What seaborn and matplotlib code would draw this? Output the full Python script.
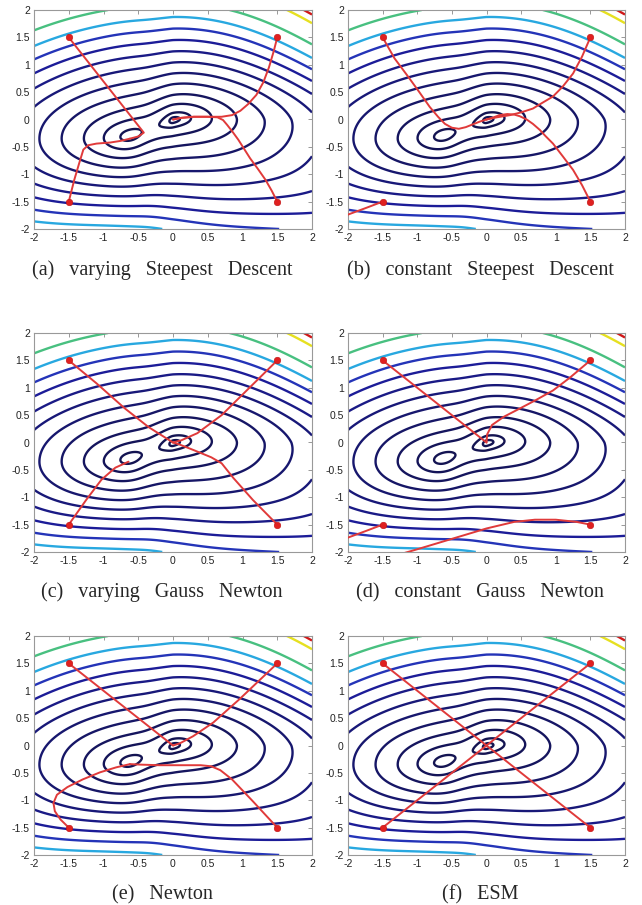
"""
Six panels: descent paths of several minimisation methods drawn over the
contour lines of a two-basin cost surface (four starting points each).
"""

import numpy as np
import matplotlib
matplotlib.use("Agg")
import matplotlib.pyplot as plt
import seaborn as sns

# ---------------------------------------------------------------------------
# Data
# ---------------------------------------------------------------------------

TICKS = [-2, -1.5, -1, -0.5, 0, 0.5, 1, 1.5, 2]
TICK_LABELS = ["-2", "-1.5", "-1", "-0.5", "0", "0.5", "1", "1.5", "2"]

# contour levels of the cost surface (innermost first)
LEVELS = [0.05, 0.13, 0.28, 0.46, 0.66, 0.86, 1.06, 1.26, 1.46, 1.66,
          1.86, 2.1, 2.47, 2.62]

# cost surface: global minimum at the origin, local minimum at LOCAL_MIN_X
LOCAL_MIN_X = -0.62
LOCAL_DEPTH = 0.08

START_X = [-1.5, 1.5, 1.5, -1.5]
START_Y = [1.5, 1.5, -1.5, -1.5]

PATHS_A = [
    [(-1.5, 1.5), (-0.42, -0.24), (-0.5, -0.31), (-0.62, -0.35)],
    [(1.5, 1.5), (1.45, 1.25), (1.38, 0.95), (1.3, 0.68), (1.2, 0.45),
     (1.08, 0.28), (0.97, 0.16), (0.85, 0.08), (0.7, 0.05), (0.5, 0.05),
     (0.3, 0.05), (0.12, 0.03), (0.0, 0.0)],
    [(1.5, -1.5), (1.42, -1.3), (1.33, -1.1), (1.22, -0.9), (1.11, -0.71),
     (1.02, -0.53), (0.94, -0.37), (0.86, -0.23), (0.78, -0.1), (0.72, -0.01),
     (0.64, 0.04), (0.5, 0.05), (0.3, 0.05), (0.12, 0.03), (0.0, 0.0)],
    [(-1.5, -1.5), (-1.42, -1.1), (-1.35, -0.8), (-1.29, -0.55), (-1.22, -0.47),
     (-1.1, -0.44), (-0.9, -0.42), (-0.75, -0.39), (-0.62, -0.35)],
]

PATHS_B = [
    [(-1.5, 1.5), (-1.33, 1.12), (-1.13, 0.78), (-0.97, 0.5), (-0.82, 0.23),
     (-0.7, 0.05), (-0.6, -0.08), (-0.5, -0.15), (-0.4, -0.17), (-0.3, -0.14),
     (-0.2, -0.09), (-0.1, -0.04), (0.0, 0.0)],
    [(1.5, 1.5), (1.38, 1.15), (1.25, 0.84), (1.1, 0.6), (0.96, 0.42),
     (0.8, 0.3), (0.67, 0.2), (0.5, 0.13), (0.34, 0.08), (0.15, 0.04), (0.0, 0.0)],
    [(1.5, -1.5), (1.38, -1.2), (1.25, -0.92), (1.1, -0.67), (0.96, -0.44),
     (0.85, -0.3), (0.77, -0.19), (0.67, -0.08), (0.58, 0.0), (0.48, 0.06),
     (0.4, 0.09), (0.3, 0.1), (0.19, 0.08), (0.08, 0.03), (0.0, 0.0)],
    [(-1.5, -1.5), (-1.75, -1.62), (-2.05, -1.76)],
]

PATHS_C = [
    [(-1.5, 1.5), (-1.1, 1.08), (-0.7, 0.63), (-0.35, 0.28), (0.0, 0.0)],
    [(1.5, 1.5), (1.1, 1.0), (0.7, 0.5), (0.35, 0.17), (0.12, 0.04), (0.0, 0.0)],
    [(1.5, -1.5), (1.15, -1.05), (0.87, -0.65), (0.7, -0.38), (0.55, -0.27),
     (0.3, -0.14), (0.1, -0.04), (0.0, 0.0)],
    [(-1.5, -1.5), (-1.25, -1.05), (-1.03, -0.68), (-0.83, -0.46), (-0.64, -0.35)],
]

PATHS_D = [
    [(-1.5, 1.5), (0.0, 0.0)],
    [(1.5, 1.5), (1.2, 1.18), (0.96, 0.95), (0.72, 0.78), (0.48, 0.62),
     (0.25, 0.47), (0.08, 0.32), (0.01, 0.15), (0.0, 0.0)],
    [(1.5, -1.5), (1.3, -1.45), (1.0, -1.41), (0.7, -1.41), (0.4, -1.45),
     (0.0, -1.57), (-0.5, -1.76), (-1.0, -1.95), (-1.3, -2.06)],
    [(-1.5, -1.5), (-1.75, -1.62), (-2.05, -1.76)],
]

PATHS_E = [
    [(-1.5, 1.5), (0.0, 0.0)],
    [(1.5, 1.5), (0.96, 0.85), (0.58, 0.42), (0.29, 0.17), (0.1, 0.04), (0.0, 0.0)],
    [(1.5, -1.5), (1.15, -1.02), (0.85, -0.62), (0.68, -0.45), (0.55, -0.38),
     (0.4, -0.36), (0.1, -0.36), (-0.2, -0.36), (-0.45, -0.35), (-0.62, -0.34)],
    [(-1.5, -1.5), (-1.62, -1.35), (-1.7, -1.2), (-1.72, -1.05), (-1.67, -0.9),
     (-1.52, -0.76), (-1.3, -0.62), (-1.05, -0.49), (-0.82, -0.4), (-0.62, -0.34)],
]

PATHS_F = [
    [(-1.5, 1.5), (0.0, 0.0)],
    [(1.5, 1.5), (0.0, 0.0)],
    [(1.5, -1.5), (0.0, 0.0)],
    [(-1.5, -1.5), (0.0, 0.0)],
]

CAPTIONS = [
    "(a) varying Steepest Descent", "(b) constant Steepest Descent",
    "(c) varying Gauss Newton", "(d) constant Gauss Newton",
    "(e) Newton", "(f) ESM",
]

# ---------------------------------------------------------------------------
# Style
# ---------------------------------------------------------------------------

LINE_COLORS = ["#141452", "#141452", "#141458", "#15155e", "#161666",
               "#17176e", "#181878", "#1a1a86", "#1c1c98", "#2434b8",
               "#28a8e0", "#48c080", "#e6e020", "#d01818"]
PATH_COLOR = "#e03a3a"

sns.set_style("white")
plt.rcParams["font.family"] = ["Liberation Sans", "DejaVu Sans"]
plt.rcParams["axes.unicode_minus"] = False


def cost_surface(x, y):
    """Smooth distance-like cost with a valley joining the two minima."""
    # along-valley term: 0 at the origin, LOCAL_DEPTH at the local minimum
    excess = 0.05 * np.log1p(np.exp((-0.85 - x) / 0.05))
    plateau = 0.19 * (1 - np.exp(-np.abs(x) / 0.17))
    well = (0.185 - LOCAL_DEPTH) * np.exp(-((x - LOCAL_MIN_X) / 0.19) ** 2)
    u = np.where(x > 0, x / 2.0, plateau - well + excess / 1.6)

    # valley centre: tilted near the minima, smooth far away
    c_near = (-0.15 + 0.2 * np.tanh((x + 0.3) / 0.35)
              - 0.06 * np.maximum(x, 0) ** 2)
    c_far = -0.12 + 0.1 * x - np.where(x < 0, 0.02, 0.145) * x ** 2
    wgt = np.exp(-((y + 0.15) / 1.0) ** 2)
    centre = wgt * c_near + (1 - wgt) * c_far

    scale_up = 1.07
    scale_dn = 1.03 + 0.13 * np.tanh(x / 0.8)
    dv = y - centre
    v = np.where(dv > 0, dv / scale_up, dv / scale_dn)

    corner = 0.04 * np.maximum(x, 0) * np.maximum(y, 0)
    return np.sqrt(u ** 2 + v ** 2) + corner


GRID = np.linspace(-2, 2, 601)
XX, YY = np.meshgrid(GRID, GRID)
ZZ = cost_surface(XX, YY)


def draw_panel(ax, paths):
    ax.contour(XX, YY, ZZ, levels=LEVELS, colors=LINE_COLORS,
               linewidths=1.7, zorder=1)
    for path in paths:
        px = [p[0] for p in path]
        py = [p[1] for p in path]
        sns.lineplot(x=px, y=py, sort=False, estimator=None, ax=ax,
                     color=PATH_COLOR, linewidth=1.4, zorder=3)
    sns.scatterplot(x=START_X, y=START_Y, ax=ax, color="#e02020", s=22,
                    edgecolor="#c01010", linewidth=0.4, zorder=4)

    ax.set_xlim(-2, 2)
    ax.set_ylim(-2, 2)
    ax.set_xticks(TICKS)
    ax.set_yticks(TICKS)
    ax.set_xticklabels(TICK_LABELS)
    ax.set_yticklabels(TICK_LABELS)
    ax.tick_params(direction="in", length=3, width=0.6, top=True, right=True,
                   labelsize=7.5, labelcolor="#222222", color="#888888", pad=3)
    for spine in ax.spines.values():
        spine.set_color("#999999")
        spine.set_linewidth(0.8)


# ---------------------------------------------------------------------------
# Figure
# ---------------------------------------------------------------------------

W, H = 642, 905
fig = plt.figure(figsize=(W / 100, H / 100), dpi=100)

col_left = [34, 348]
col_right = [312, 625]
row_top = [10, 333, 636]
row_bottom = [229, 552, 855]
caption_base = [275, 597, 899]
caption_x = [162, 480]

all_paths = [PATHS_A, PATHS_B, PATHS_C, PATHS_D, PATHS_E, PATHS_F]

for i, paths in enumerate(all_paths):
    r, c = divmod(i, 2)
    left = col_left[c] / W
    width = (col_right[c] - col_left[c]) / W
    bottom = 1 - row_bottom[r] / H
    height = (row_bottom[r] - row_top[r]) / H
    ax = fig.add_axes([left, bottom, width, height])
    draw_panel(ax, paths)
    # the printed captions use wide inter-word spacing
    fig.text(caption_x[c] / W, 1 - caption_base[r] / H,
             CAPTIONS[i].replace(" ", "   "),
             ha="center", va="baseline", fontsize=14.5,
             family=["Liberation Serif", "DejaVu Serif"])

fig.savefig("out.png", dpi=100)
